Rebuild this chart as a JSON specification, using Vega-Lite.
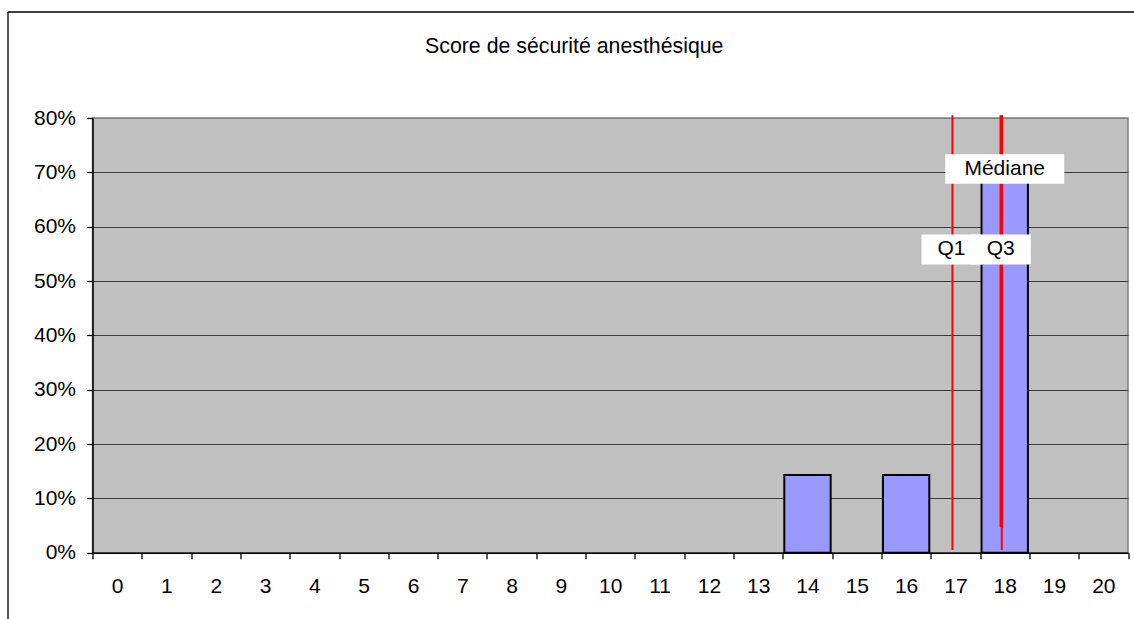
{
  "$schema": "https://vega.github.io/schema/vega-lite/v6.json",
  "width": 1035.5,
  "height": 434.7,
  "autosize": {"type": "none"},
  "padding": {"left": 92.5, "top": 118, "right": 6, "bottom": 66.3},
  "background": "white",
  "config": {
    "font": "Liberation Sans",
    "view": {"fill": "#C0C0C0", "stroke": "#808080", "strokeWidth": 1.5},
    "axis": {
      "title": null,
      "labelFont": "Liberation Sans",
      "labelFontSize": 21,
      "labelColor": "black",
      "tickColor": "black",
      "tickSize": 6,
      "tickWidth": 1.3,
      "domainColor": "black",
      "domainWidth": 1.5
    }
  },
  "title": {
    "text": "Score de sécurité anesthésique",
    "font": "Liberation Sans",
    "fontSize": 21.3,
    "fontWeight": "normal",
    "color": "black",
    "frame": "group",
    "anchor": "middle",
    "dx": -36,
    "baseline": "alphabetic",
    "offset": -62.5
  },
  "datasets": {
    "scores": [
      {"score": 0, "pct": 0}, {"score": 1, "pct": 0}, {"score": 2, "pct": 0},
      {"score": 3, "pct": 0}, {"score": 4, "pct": 0}, {"score": 5, "pct": 0},
      {"score": 6, "pct": 0}, {"score": 7, "pct": 0}, {"score": 8, "pct": 0},
      {"score": 9, "pct": 0}, {"score": 10, "pct": 0}, {"score": 11, "pct": 0},
      {"score": 12, "pct": 0}, {"score": 13, "pct": 0}, {"score": 14, "pct": 0.142857},
      {"score": 15, "pct": 0}, {"score": 16, "pct": 0.142857}, {"score": 17, "pct": 0},
      {"score": 18, "pct": 0.714286}, {"score": 19, "pct": 0}, {"score": 20, "pct": 0}
    ],
    "stats": [
      {"stat": "Q1", "score": 17},
      {"stat": "Q3", "score": 18},
      {"stat": "Médiane", "score": 18}
    ]
  },
  "resolve": {"scale": {"x": "independent", "y": "independent"}, "axis": {"x": "independent", "y": "independent"}},
  "layer": [
    {
      "data": {"values": [{}]},
      "layer": [
        {
          "mark": {"type": "rule", "color": "black", "strokeWidth": 1.3},
          "encoding": {
            "x": {"datum": -0.0816, "type": "quantitative", "scale": {"domain": [0, 1], "nice": false, "zero": false}, "axis": null},
            "y": {"datum": 1.2439, "type": "quantitative", "scale": {"domain": [0, 1], "nice": false, "zero": false}, "axis": null},
            "y2": {"datum": -0.3}
          }
        },
        {
          "mark": {"type": "rule", "color": "black", "strokeWidth": 1.3},
          "encoding": {
            "x": {"datum": -0.0816, "type": "quantitative"},
            "x2": {"datum": 1.2},
            "y": {"datum": 1.2439, "type": "quantitative"}
          }
        }
      ]
    },
    {
      "layer": [
        {
          "data": {"name": "scores"},
          "transform": [{"filter": "datum.pct > 0"}],
          "mark": {"type": "bar", "fill": "#9999FF", "stroke": "black", "strokeWidth": 2, "width": {"band": 0.94}},
          "encoding": {
            "x": {
              "field": "score",
              "type": "ordinal",
              "scale": {"domain": [0,1,2,3,4,5,6,7,8,9,10,11,12,13,14,15,16,17,18,19,20], "paddingInner": 0, "paddingOuter": 0},
              "axis": {"orient": "bottom", "labelAngle": 0, "tickBand": "extent", "labelPadding": 17, "grid": false}
            },
            "y": {
              "field": "pct",
              "type": "quantitative",
              "scale": {"domain": [0, 0.8], "nice": false},
              "axis": {
                "orient": "left",
                "format": ".0%",
                "values": [0, 0.1, 0.2, 0.3, 0.4, 0.5, 0.6, 0.7, 0.8],
                "grid": true,
                "gridColor": {"condition": {"test": "datum.value >= 0.79", "value": "#808080"}, "value": "#3a3a3a"},
                "gridWidth": 1.2,
                "labelPadding": 11
              }
            }
          }
        },
        {
          "data": {"name": "stats"},
          "transform": [{"filter": "datum.stat === 'Médiane'"}],
          "mark": {"type": "rule", "color": "#FF0000", "strokeWidth": 3.5},
          "encoding": {
            "x": {"field": "score", "type": "ordinal", "bandPosition": 0.43},
            "y": {"datum": 0.805, "type": "quantitative"},
            "y2": {"datum": 0.047}
          }
        },
        {
          "data": {"name": "stats"},
          "transform": [{"filter": "datum.stat !== 'Médiane'"}],
          "mark": {"type": "rule", "color": "#FF0000", "strokeWidth": 2},
          "encoding": {
            "x": {"field": "score", "type": "ordinal", "bandPosition": 0.44},
            "y": {"datum": 0.805, "type": "quantitative"},
            "y2": {"datum": 0.005}
          }
        },
        {
          "data": {"name": "stats"},
          "transform": [{"filter": "datum.stat === 'Médiane'"}],
          "mark": {"type": "point", "shape": "M-1,-0.248H1V0.248H-1Z", "filled": true, "fill": "white", "opacity": 1, "strokeWidth": 0, "size": 14161},
          "encoding": {
            "x": {"field": "score", "type": "ordinal", "bandPosition": 0.5},
            "y": {"datum": 0.706, "type": "quantitative"}
          }
        },
        {
          "data": {"name": "stats"},
          "transform": [{"filter": "datum.stat !== 'Médiane'"}],
          "mark": {"type": "point", "shape": "M-1,-0.5H1V0.5H-1Z", "filled": true, "fill": "white", "opacity": 1, "strokeWidth": 0, "size": 3600},
          "encoding": {
            "x": {"field": "score", "type": "ordinal", "bandPosition": 0.42},
            "y": {"datum": 0.558, "type": "quantitative"}
          }
        },
        {
          "data": {"name": "stats"},
          "transform": [{"filter": "datum.stat === 'Médiane'"}],
          "mark": {"type": "text", "font": "Liberation Sans", "fontSize": 21, "color": "black", "baseline": "middle", "align": "center"},
          "encoding": {
            "x": {"field": "score", "type": "ordinal", "bandPosition": 0.5},
            "y": {"datum": 0.706, "type": "quantitative"},
            "text": {"field": "stat"}
          }
        },
        {
          "data": {"name": "stats"},
          "transform": [{"filter": "datum.stat !== 'Médiane'"}],
          "mark": {"type": "text", "font": "Liberation Sans", "fontSize": 21, "color": "black", "baseline": "middle", "align": "center"},
          "encoding": {
            "x": {"field": "score", "type": "ordinal", "bandPosition": 0.42},
            "y": {"datum": 0.558, "type": "quantitative"},
            "text": {"field": "stat"}
          }
        }
      ]
    }
  ]
}
